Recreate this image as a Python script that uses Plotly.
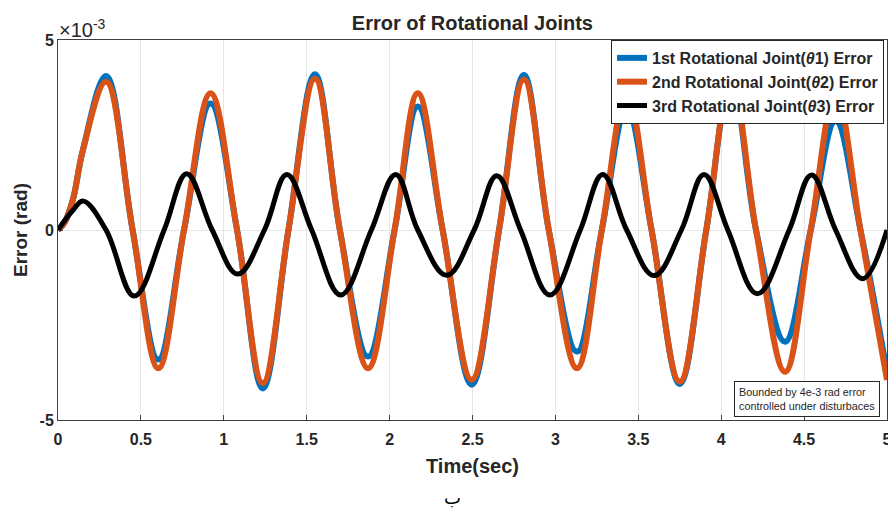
import plotly.graph_objects as go

# Values in units of 1e-3 rad
t1 = [0, 0.04, 0.09, 0.15, 0.29, 0.45, 0.605, 0.76, 0.92, 1.08, 1.235, 1.39, 1.55, 1.70, 1.87,
      2.03, 2.17, 2.32, 2.495, 2.66, 2.81, 2.96, 3.13, 3.28, 3.43, 3.58, 3.75, 3.91, 4.06, 4.21,
      4.385, 4.54, 4.69, 4.84, 5.0]
err1 = [0, 0.2, 0.8, 2.1, 4.05, 0, -3.41, 0, 3.33, 0, -4.17, 0, 4.1, 0, -3.33,
        0, 3.25, 0, -4.07, 0, 4.08, 0, -3.2, 0, 3.2, 0, -4.05, 0, 3.92, 0,
        -2.94, 0, 2.87, 0, -3.75]
err2 = [0, 0.2, 0.8, 2.1, 3.9, 0, -3.64, 0, 3.6, 0, -4.03, 0, 3.98, 0, -3.64,
        0, 3.6, 0, -3.94, 0, 3.96, 0, -3.64, 0, 3.6, 0, -3.99, 0, 3.97, 0,
        -3.73, 0, 3.6, 0, -3.95]

t3 = [0, 0.09, 0.153, 0.29, 0.46, 0.64, 0.776, 0.93, 1.084, 1.245, 1.38, 1.53, 1.705, 1.89,
      2.037, 2.17, 2.344, 2.51, 2.646, 2.79, 2.967, 3.15, 3.285, 3.43, 3.595, 3.76, 3.896,
      4.04, 4.218, 4.41, 4.545, 4.69, 4.853, 5.0]
err3 = [0, 0.52, 0.76, 0, -1.74, 0, 1.48, 0, -1.16, 0, 1.46, 0, -1.71, 0,
        1.46, 0, -1.19, 0, 1.43, 0, -1.71, 0, 1.46, 0, -1.2, 0, 1.46,
        0, -1.68, 0, 1.45, 0, -1.28, 0]

x_ticks = [0, 0.5, 1, 1.5, 2, 2.5, 3, 3.5, 4, 4.5, 5]
x_labels = ["0", "0.5", "1", "1.5", "2", "2.5", "3", "3.5", "4", "4.5", "5"]
y_ticks = [-5, 0, 5]
y_labels = ["-5", "0", "5"]

names = ["<b>1st Rotational Joint(<i>θ</i>1) Error</b>",
         "<b>2nd Rotational Joint(<i>θ</i>2) Error</b>",
         "<b>3rd Rotational Joint(<i>θ</i>3) Error</b>"]
colors = ["#0072BD", "#D95319", "#000000"]

FONT = "Liberation Sans, Arial, sans-serif"

fig = go.Figure()
fig.add_trace(go.Scatter(x=t1, y=err1, mode="lines", name=names[0], legendgroup="a",
                         line=dict(color=colors[0], width=6, shape="spline", smoothing=1.1)))
fig.add_trace(go.Scatter(x=t1, y=err2, mode="lines", name=names[1], legendgroup="b",
                         line=dict(color=colors[1], width=6, shape="spline", smoothing=1.1)))
fig.add_trace(go.Scatter(x=t3, y=err3, mode="lines", name=names[2], legendgroup="c",
                         line=dict(color=colors[2], width=5, shape="spline", smoothing=1.1)))

fig.update_layout(
    width=888, height=512,
    margin=dict(l=58, r=1, t=40, b=92),
    paper_bgcolor="white", plot_bgcolor="white",
    font=dict(family=FONT, color="#262626"),
    title=dict(text="<b>Error of Rotational Joints</b>", x=0.532, xanchor="center",
               y=0.955, yanchor="middle", font=dict(size=20, color="#262626")),
    showlegend=True,
    legend=dict(x=0.9964, xanchor="right", y=1.0, yanchor="top",
                bgcolor="white", bordercolor="#262626", borderwidth=1,
                font=dict(size=16, color="#262626", family=FONT),
                tracegroupgap=0, traceorder="grouped"),
)
fig.update_xaxes(range=[0, 5], tickvals=x_ticks, ticktext=[f"<b>{s}</b>" for s in x_labels],
                 tickfont=dict(size=16, color="#262626"), ticklabeloverflow="allow",
                 ticklabelstandoff=5, automargin=False,
                 showgrid=True, gridcolor="#e6e6e6", gridwidth=1,
                 showline=True, linecolor="#404040", linewidth=1, mirror=True,
                 ticks="inside", ticklen=5, tickcolor="#404040", zeroline=False,
                 title=dict(text="<b>Time(sec)</b>", font=dict(size=20, color="#262626"), standoff=11))
fig.update_yaxes(range=[-5, 5], tickvals=y_ticks, ticktext=[f"<b>{s}</b>" for s in y_labels],
                 tickfont=dict(size=16, color="#262626"), ticklabeloverflow="allow",
                 automargin=False,
                 showgrid=True, gridcolor="#e6e6e6", gridwidth=1,
                 showline=True, linecolor="#404040", linewidth=1, mirror=True,
                 ticks="inside", ticklen=5, tickcolor="#404040", zeroline=False,
                 title=dict(text="<b>Error (rad)</b>", font=dict(size=19, color="#262626"), standoff=6))

fig.add_annotation(xref="paper", yref="paper", x=0.0, y=1.0, xanchor="left", yanchor="bottom",
                   text="×10<sup>-3</sup>", showarrow=False, font=dict(size=20, color="#262626"),
                   xshift=-1, yshift=-3)
fig.add_annotation(xref="paper", yref="paper", x=0.9916, y=0.008, xanchor="right", yanchor="bottom",
                   text="Bounded by 4e-3 rad error<br>controlled under disturbaces", align="left",
                   showarrow=False, font=dict(size=10.8, color="#262626"),
                   bordercolor="#262626", borderwidth=1, borderpad=4, bgcolor="white")
fig.add_annotation(xref="paper", yref="paper", x=0.476, y=-0.205, xanchor="center", yanchor="middle",
                   text="ب", showarrow=False, font=dict(size=18, color="#000000", family="DejaVu Sans"))

fig.write_html("out.html")
